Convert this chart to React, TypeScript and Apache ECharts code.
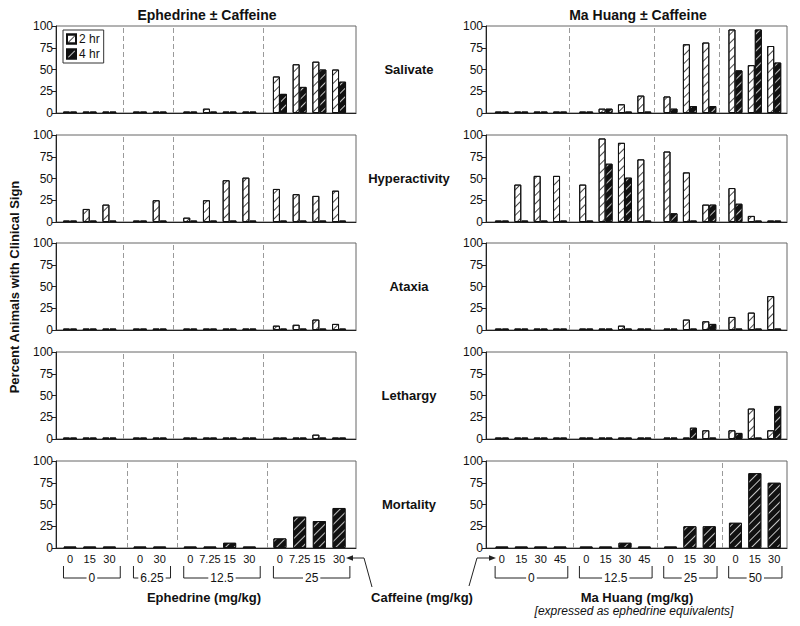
import React, { useEffect, useRef } from "react";
import * as echarts from "echarts";

const FONT = "'Liberation Sans', Arial, Helvetica, sans-serif";

const SIGNS = ["Salivate", "Hyperactivity", "Ataxia", "Lethargy", "Mortality"];

// Ephedrine ± Caffeine (left column)
const EPH_DOSES = ["0", "6.25", "12.5", "25"];
const EPH_CAFFEINE = [["0", "15", "30"], ["0", "30"], ["0", "7.25", "15", "30"], ["0", "7.25", "15", "30"]];
const EPH_SALIVATE_2H = [0, 0, 0, 0, 0, 0, 5, 0, 0, 42, 56, 59, 50];
const EPH_SALIVATE_4H = [0, 0, 0, 0, 0, 0, 0, 0, 0, 22, 30, 50, 36];
const EPH_HYPER_2H = [0, 15, 20, 0, 25, 5, 25, 48, 51, 38, 32, 30, 36];
const EPH_HYPER_4H = [0, 0, 0, 0, 0, 0, 0, 0, 0, 0, 0, 0, 0];
const EPH_ATAXIA_2H = [0, 0, 0, 0, 0, 0, 0, 0, 0, 5, 6, 12, 7];
const EPH_ATAXIA_4H = [0, 0, 0, 0, 0, 0, 0, 0, 0, 0, 0, 0, 0];
const EPH_LETHARGY_2H = [0, 0, 0, 0, 0, 0, 0, 0, 0, 0, 0, 5, 0];
const EPH_LETHARGY_4H = [0, 0, 0, 0, 0, 0, 0, 0, 0, 0, 0, 0, 0];
const EPH_MORTALITY = [0, 0, 0, 0, 0, 0, 0, 6, 0, 11, 36, 31, 46];

// Ma Huang ± Caffeine (right column)
const MH_DOSES = ["0", "12.5", "25", "50"];
const MH_CAFFEINE = [["0", "15", "30", "45"], ["0", "15", "30", "45"], ["0", "15", "30"], ["0", "15", "30"]];
const MH_SALIVATE_2H = [0, 0, 0, 0, 0, 5, 10, 20, 19, 79, 81, 96, 55, 77];
const MH_SALIVATE_4H = [0, 0, 0, 0, 0, 5, 0, 0, 5, 8, 8, 49, 96, 58];
const MH_HYPER_2H = [0, 43, 53, 53, 43, 96, 91, 72, 81, 57, 20, 39, 7, 0];
const MH_HYPER_4H = [0, 0, 0, 0, 0, 67, 51, 0, 10, 0, 20, 21, 0, 0];
const MH_ATAXIA_2H = [0, 0, 0, 0, 0, 0, 5, 0, 0, 12, 10, 15, 20, 39];
const MH_ATAXIA_4H = [0, 0, 0, 0, 0, 0, 0, 0, 0, 0, 7, 0, 0, 0];
const MH_LETHARGY_2H = [0, 0, 0, 0, 0, 0, 0, 0, 0, 0, 10, 10, 35, 10];
const MH_LETHARGY_4H = [0, 0, 0, 0, 0, 0, 0, 0, 0, 13, 0, 7, 0, 38];
const MH_MORTALITY = [0, 0, 0, 0, 0, 0, 6, 0, 0, 25, 25, 29, 86, 75];

const Y_TICKS = [0, 25, 50, 75, 100];

const ROW_TOPS = [26, 135, 243, 352, 461];
const ROW_H = 87;

function layoutSide(groups: string[][], gapUnits: number, divShift: number, brL: number, brR: number) {
  const pos: number[] = [];
  const ranges: number[][] = [];
  let x = 0;
  groups.forEach((g, gi) => {
    if (gi > 0) x += gapUnits - 1;
    const first = x;
    g.forEach(() => {
      pos.push(x);
      x += 1;
    });
    ranges.push([first, x - 1]);
  });
  const dividers: number[] = [];
  for (let i = 0; i < ranges.length - 1; i++) {
    dividers.push((ranges[i][1] + ranges[i + 1][0]) / 2 + divShift);
  }
  const brackets = ranges.map((r) => [r[0] - brL, r[1] + brR]);
  return { pos, dividers, brackets };
}

const DECAL_BASE = {
  symbol: "rect",
  symbolSize: 1,
  dashArrayX: [1, 0],
  rotation: -Math.PI / 4,
};

export default function App() {
  const ref = useRef<HTMLDivElement>(null);
  useEffect(() => {
    if (!ref.current) return;
    const chart = echarts.init(ref.current, undefined, { renderer: "svg" });

    const left = layoutSide(EPH_CAFFEINE, 1.55, 0.12, 0.33, 0.55);
    const right = layoutSide(MH_CAFFEINE, 1.35, 0, 0.35, 0.4);

    const sides = [
      {
        ...left,
        labels: EPH_CAFFEINE.flat(),
        doses: EPH_DOSES,
        gridLeft: 56,
        gridWidth: 300,
        min: -0.71,
        max: 14.51,
        rows: [
          [EPH_SALIVATE_2H, EPH_SALIVATE_4H],
          [EPH_HYPER_2H, EPH_HYPER_4H],
          [EPH_ATAXIA_2H, EPH_ATAXIA_4H],
          [EPH_LETHARGY_2H, EPH_LETHARGY_4H],
          [EPH_MORTALITY],
        ],
      },
      {
        ...right,
        labels: MH_CAFFEINE.flat(),
        doses: MH_DOSES,
        gridLeft: 486,
        gridWidth: 301,
        min: -0.82,
        max: 14.71,
        rows: [
          [MH_SALIVATE_2H, MH_SALIVATE_4H],
          [MH_HYPER_2H, MH_HYPER_4H],
          [MH_ATAXIA_2H, MH_ATAXIA_4H],
          [MH_LETHARGY_2H, MH_LETHARGY_4H],
          [MH_MORTALITY],
        ],
      },
    ];

    const grids: any[] = [];
    const xAxes: any[] = [];
    const yAxes: any[] = [];
    const series: any[] = [];

    const style2h = {
      color: "#ffffff",
      borderColor: "#111",
      borderWidth: 1,
      decal: { ...DECAL_BASE, dashArrayY: [1, 4.5], color: "#444" },
    };
    const style4h = {
      color: "#111111",
      borderColor: "#111",
      borderWidth: 1,
      decal: { ...DECAL_BASE, dashArrayY: [0.8, 4.7], color: "rgba(255,255,255,0.75)" },
    };

    for (let r = 0; r < 5; r++) {
      sides.forEach((side) => {
        const idx = grids.length;
        grids.push({
          left: side.gridLeft,
          top: ROW_TOPS[r],
          width: side.gridWidth,
          height: ROW_H,
          show: true,
          borderColor: "#666",
          borderWidth: 1,
          backgroundColor: "transparent",
        });
        const bottom = r === 4;
        xAxes.push({
          gridIndex: idx,
          type: "value",
          min: side.min,
          max: side.max,
          axisLine: { show: true, onZero: false, lineStyle: { color: "#222", width: 1 } },
          axisTick: { show: false },
          splitLine: { show: false },
          axisLabel: bottom
            ? {
                show: true,
                customValues: side.pos,
                fontSize: 11,
                color: "#111",
                fontFamily: FONT,
                margin: 5,
                formatter: (v: number) => {
                  const i = side.pos.findIndex((p) => Math.abs(p - v) < 1e-3);
                  return i >= 0 ? side.labels[i] : "";
                },
              }
            : { show: false },
        });
        yAxes.push({
          gridIndex: idx,
          type: "value",
          min: Y_TICKS[0],
          max: Y_TICKS[Y_TICKS.length - 1],
          interval: 25,
          axisLine: { show: true, onZero: false, lineStyle: { color: "#222", width: 1 } },
          axisTick: { show: true, length: 4, lineStyle: { color: "#222" } },
          splitLine: { show: false },
          axisLabel: { fontSize: 12, color: "#111", fontFamily: FONT, margin: 3 },
        });

        const markLine = {
          silent: true,
          symbol: ["none", "none"],
          label: { show: false },
          animation: false,
          lineStyle: { type: [5, 3], color: "#9a9a9a", width: 1 },
          data: side.dividers.map((d) => ({ xAxis: d })),
        };

        const rowData = side.rows[r];
        if (rowData.length === 2) {
          series.push({
            type: "bar",
            name: "2 hr",
            xAxisIndex: idx,
            yAxisIndex: idx,
            barWidth: 7,
            barGap: "0%",
            barMinHeight: 1.5,
            itemStyle: style2h,
            data: side.pos.map((x, i) => [x, rowData[0][i]]),
            markLine,
          });
          series.push({
            type: "bar",
            name: "4 hr",
            xAxisIndex: idx,
            yAxisIndex: idx,
            barWidth: 7,
            barGap: "0%",
            barMinHeight: 1.5,
            itemStyle: style4h,
            data: side.pos.map((x, i) => [x, rowData[1][i]]),
          });
        } else {
          series.push({
            type: "bar",
            name: "4 hr",
            xAxisIndex: idx,
            yAxisIndex: idx,
            barWidth: 13,
            barMinHeight: 1.5,
            itemStyle: style4h,
            data: side.pos.map((x, i) => [x, rowData[0][i]]),
            markLine,
          });
          const doses = side.doses;
          series.push({
            type: "custom",
            xAxisIndex: idx,
            yAxisIndex: idx,
            clip: false,
            silent: true,
            data: side.brackets.map((b) => [b[0], b[1]]),
            encode: { x: [0, 1] },
            renderItem: (params: any, api: any) => {
              const a = api.coord([api.value(0), 0]);
              const b = api.coord([api.value(1), 0]);
              const y0 = a[1];
              const top = y0 + 18;
              const bot = y0 + 30;
              return {
                type: "group",
                children: [
                  {
                    type: "polyline",
                    shape: { points: [[a[0], top], [a[0], bot], [b[0], bot], [b[0], top]] },
                    style: { stroke: "#222", lineWidth: 1, fill: null },
                  },
                  {
                    type: "text",
                    x: (a[0] + b[0]) / 2,
                    y: bot,
                    style: {
                      text: doses[params.dataIndex],
                      fontSize: 12,
                      fontFamily: FONT,
                      fill: "#111",
                      align: "center",
                      verticalAlign: "middle",
                      backgroundColor: "#fff",
                      padding: [0, 2],
                    },
                  },
                ],
              };
            },
          });
        }
      });
    }

    const textEl = (text: string, x: number, y: number, extra: any = {}) => ({
      type: "text",
      x,
      y,
      silent: true,
      ...(extra.rotation ? { rotation: extra.rotation } : {}),
      style: {
        text,
        fontSize: extra.fontSize || 13,
        fontWeight: extra.fontWeight || "bold",
        fontStyle: extra.fontStyle || "normal",
        fontFamily: FONT,
        fill: "#111",
        align: "center",
        verticalAlign: "middle",
      },
    });

    const graphics: any[] = [
      textEl("Ephedrine ± Caffeine", 207, 15, { fontSize: 14 }),
      textEl("Ma Huang ± Caffeine", 638, 15, { fontSize: 14 }),
      textEl("Percent Animals with Clinical Sign", 14, 287, { rotation: Math.PI / 2 }),
      ...SIGNS.map((s, i) => textEl(s, 409, ROW_TOPS[i] + ROW_H / 2)),
      textEl("Ephedrine (mg/kg)", 204, 597),
      textEl("Ma Huang (mg/kg)", 637, 597),
      textEl("[expressed as ephedrine equivalents]", 634, 611, { fontSize: 12, fontWeight: "normal", fontStyle: "italic" }),
      textEl("Caffeine (mg/kg)", 422, 597),
      {
        type: "polyline",
        silent: true,
        shape: { points: [[372, 587], [364, 558], [352, 558]] },
        style: { stroke: "#222", lineWidth: 1, fill: null },
      },
      {
        type: "polygon",
        silent: true,
        shape: { points: [[346, 558], [353, 555.3], [353, 560.7]] },
        style: { fill: "#222" },
      },
      {
        type: "polyline",
        silent: true,
        shape: { points: [[469, 586], [477, 558], [490, 558]] },
        style: { stroke: "#222", lineWidth: 1, fill: null },
      },
      {
        type: "polygon",
        silent: true,
        shape: { points: [[496, 558], [489, 555.3], [489, 560.7]] },
        style: { fill: "#222" },
      },
    ];

    chart.setOption({
      animation: false,
      backgroundColor: "#ffffff",
      textStyle: { fontFamily: FONT },
      legend: {
        data: ["2 hr", "4 hr"],
        orient: "vertical",
        left: 63,
        top: 30,
        icon: "rect",
        itemWidth: 9,
        itemHeight: 9,
        itemGap: 3,
        padding: [3, 4, 3, 3],
        borderColor: "#333",
        borderWidth: 1,
        selectedMode: false,
        textStyle: { fontSize: 12, color: "#111", fontFamily: FONT, padding: [0, 0, 0, -2] },
      },
      grid: grids,
      xAxis: xAxes,
      yAxis: yAxes,
      series,
      graphic: graphics,
    });

    return () => chart.dispose();
  }, []);

  return (
    <div
      ref={ref}
      style={{ position: "absolute", left: 0, top: 0, width: 800, height: 626 }}
    />
  );
}
